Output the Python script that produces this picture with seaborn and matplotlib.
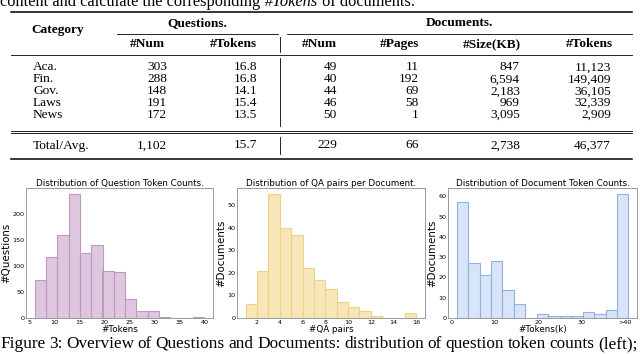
import matplotlib
matplotlib.use("Agg")
import matplotlib.pyplot as plt
from matplotlib.lines import Line2D
import numpy as np
import seaborn as sns

# ---- table data ----
categories = ["Aca.", "Fin.", "Gov.", "Laws", "News"]
q_num = ["303", "288", "148", "191", "172"]
q_tokens = ["16.8", "16.8", "14.1", "15.4", "13.5"]
d_num = ["49", "40", "44", "46", "50"]
d_pages = ["11", "192", "69", "58", "1"]
d_size = ["847", "6,594", "2,183", "969", "3,095"]
d_tokens = ["11,123", "149,409", "36,105", "32,339", "2,909"]
total_row = ["Total/Avg.", "1,102", "15.7", "229", "66", "2,738", "46,377"]
sub_headers = ["#Num", "#Tokens", "#Num", "#Pages", "#Size(KB)", "#Tokens"]

# ---- histogram data (counts per bin) ----
q_token_counts = [73, 117, 160, 238, 124, 140, 91, 88, 37, 14, 14, 2, 0, 0, 1]
qa_pair_counts = [6, 21, 55, 40, 37, 22, 17, 13, 7, 5, 3, 1, 0, 0, 2]
doc_token_counts = [57, 27, 21, 28, 14, 7, 0, 2, 1, 1, 1, 3, 2, 4, 61]
doc_tick_labels = ["0", "10", "20", "30", ">40"]

caption = "Figure 3: Overview of Questions and Documents: distribution of question token counts (left);"

W, H = 640, 354
fig = plt.figure(figsize=(W / 100, H / 100), dpi=100)
serif = "Liberation Serif"


def fx(x):
    return x / W


def fy(y):
    return 1 - y / H


def txt(x, y, s, **kw):
    kw.setdefault("family", serif)
    kw.setdefault("fontsize", 9.6)
    kw.setdefault("va", "center")
    return fig.text(fx(x), fy(y), s, **kw)


def hline(x0, x1, y, lw):
    fig.add_artist(Line2D([fx(x0), fx(x1)], [fy(y), fy(y)], color="black",
                          lw=lw, transform=fig.transFigure))


def vline(x, y0, y1, lw=0.6):
    fig.add_artist(Line2D([fx(x), fx(x)], [fy(y0), fy(y1)], color="black",
                          lw=lw, transform=fig.transFigure))


renderer = fig.canvas.get_renderer()

# ---- top clipped line ----
x = 0
for part, st in [("content and calculate the corresponding ", "normal"),
                 ("#Tokens", "italic"), (" of documents.", "normal")]:
    t = txt(x, 5.5, part, fontsize=11.8, va="baseline", style=st)
    x += t.get_window_extent(renderer).width

# ---- table ----
hline(11, 632, 12, 1.1)
txt(58, 29.5, "Category", weight="bold", ha="center")
txt(197, 23.5, "Questions.", weight="bold", ha="center")
txt(459, 23.5, "Documents.", weight="bold", ha="center")
hline(117, 278, 33.5, 0.6)
hline(287, 632, 33.5, 0.6)
sub_x = [147, 233, 319, 400, 492, 589]
for x, s in zip(sub_x, sub_headers):
    txt(x, 44, s, weight="bold", ha="center")
hline(11, 632, 55, 0.6)

right_x = [167, 257, 337, 419, 520, 611]
row_y = [67.5, 79.5, 91.5, 103, 114.5]
for i, y in enumerate(row_y):
    txt(33, y, categories[i], ha="left")
    vals = [q_num[i], q_tokens[i], d_num[i], d_pages[i], d_size[i], d_tokens[i]]
    for x, s in zip(right_x, vals):
        txt(x, y, s, ha="right")
hline(11, 632, 130.5, 0.6)
hline(11, 632, 133, 0.6)
txt(33, 145.5, total_row[0], ha="left")
for x, s in zip(right_x, total_row[1:]):
    txt(x, 145.5, s, ha="right")
hline(11, 632, 159, 1.1)
vline(280, 37, 52)
vline(280, 58, 126)
vline(280, 137, 154)


# ---- histograms ----
def hist_panel(left, right, counts, lo, hi, color, edge, alpha, title, xlabel, ylabel):
    ax = fig.add_axes([fx(left), fy(318), fx(right) - fx(left), (318 - 188) / H])
    edges = np.linspace(lo, hi, len(counts) + 1)
    centers = (edges[:-1] + edges[1:]) / 2
    sns.histplot(x=centers, weights=counts, bins=len(counts), binrange=(lo, hi),
                 color=color, edgecolor=edge, alpha=alpha, linewidth=0.8, ax=ax)
    ax.set_title(title, fontsize=6.3, pad=1.5)
    ax.set_xlabel(xlabel, fontsize=6.3, labelpad=0.5)
    ax.set_ylabel(ylabel, fontsize=7.4, labelpad=1)
    ax.tick_params(labelsize=4.6, length=0, pad=1.2)
    for sp in ax.spines.values():
        sp.set_color("#9a9a9a")
        sp.set_linewidth(0.7)
    return ax


ax1 = hist_panel(26, 213, q_token_counts, 6, 40, "#c8a2c8", "#bf98bf", 0.6,
                 "Distribution of Question Token Counts.", "#Tokens", "#Questions")
ax1.set_xticks([5, 10, 15, 20, 25, 30, 35, 40])
ax1.set_yticks([0, 50, 100, 150, 200])

ax2 = hist_panel(237, 425, qa_pair_counts, 1, 16, "#f3d68a", "#efd385", 0.6,
                 "Distribution of QA pairs per Document.", "#QA pairs", "#Documents")
ax2.set_xticks([2, 4, 6, 8, 10, 12, 14, 16])
ax2.set_yticks([0, 10, 20, 30, 40, 50])

ax3 = hist_panel(448, 637, doc_token_counts, 1.2, 40.8, "#b3cdf4", "#93b0de", 0.5,
                 "Distribution of Document Token Counts.", "#Tokens(k)", "#Documents")
ax3.set_xticks([0, 10, 20, 30, 40])
ax3.set_xticklabels(doc_tick_labels)
ax3.set_yticks([0, 10, 20, 30, 40, 50, 60])

# ---- caption, justified across the width ----
words = caption.split(" ")
objs = [txt(0, 348, w, fontsize=12.4, va="baseline") for w in words]
widths = [o.get_window_extent(renderer).width for o in objs]
gap = (638 - sum(widths)) / (len(words) - 1)
x = 0
for o, w in zip(objs, widths):
    o.set_x(fx(x))
    x += w + gap

fig.savefig("out.png", dpi=100)
